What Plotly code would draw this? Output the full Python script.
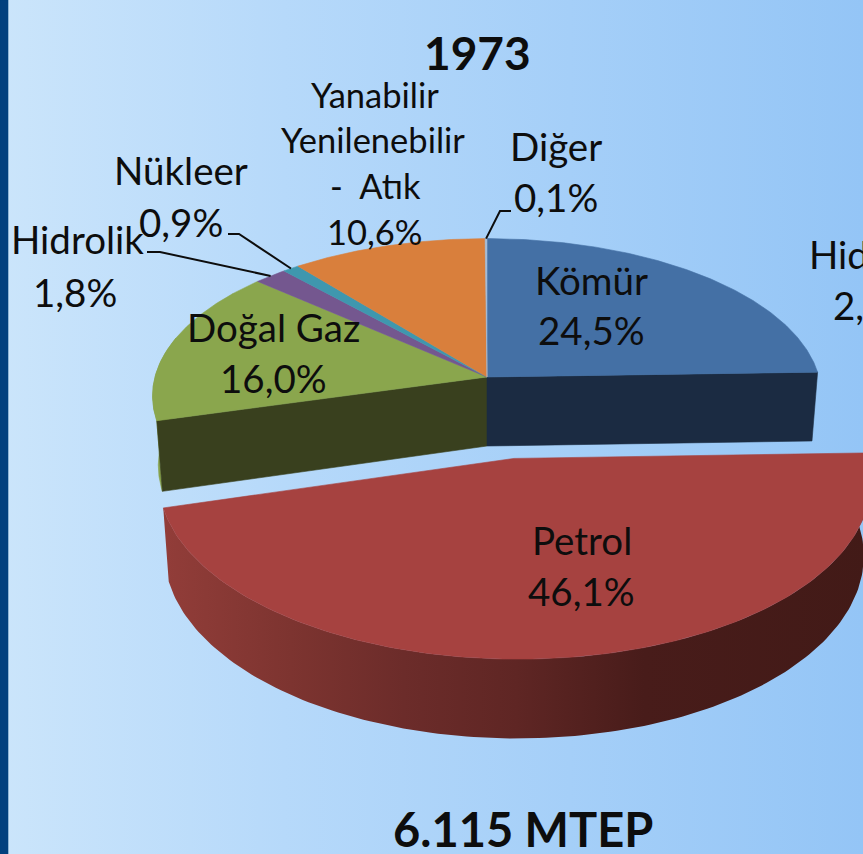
import numpy as np
import plotly.graph_objects as go

# ---------- data ----------
categories = ["Kömür", "Petrol", "Doğal Gaz", "Hidrolik", "Nükleer", "Yanabilir Yenilenebilir - Atık", "Diğer"]
values = [24.5, 46.1, 16.0, 1.8, 0.9, 10.6, 0.1]
top_colors = ["#4470a5", "#a64240", "#8aa64d", "#74578f", "#3f97ae", "#d97f3c", "#a5bcd6"]
title_text = "1973"
total_text = "6.115 MTEP"
exploded_category = "Petrol"

# ---------- projection of the tilted disc ----------
W, H = 863, 854
CX, CY, RX, RY, K, DEPTH, BASE = 487, 377, 332, 155, 0.12, 69, 0.983
EXPLODE = 0.5
FONT = "Lato"


def project(X, Z, bottom=False):
    s = 1 / (1 - K * Z)
    if bottom:
        return CX + RX * X * s * BASE, CY + RY * Z * s * BASE + DEPTH * s
    return CX + RX * X * s, CY + RY * Z * s


bounds = np.concatenate([[0], np.cumsum(values)]) / sum(values) * 2 * np.pi
wedges = []
for i, c in enumerate(categories):
    a0, a1 = bounds[i], bounds[i + 1]
    mid = (a0 + a1) / 2
    e = EXPLODE if c == exploded_category else 0
    wedges.append(dict(a0=a0, a1=a1, ox=e * np.sin(mid), oz=-e * np.cos(mid), color=top_colors[i], name=c))


def arc(w, a0=None, a1=None, bottom=False, n=160):
    t = np.linspace(w["a0"] if a0 is None else a0, w["a1"] if a1 is None else a1, n)
    return project(w["ox"] + np.sin(t), w["oz"] - np.cos(t), bottom)


def top_face(w):
    x, y = arc(w)
    ax, ay = project(w["ox"], w["oz"])
    return np.r_[ax, x, ax], np.r_[ay, y, ay]


def outer_wall(w, a0=None, a1=None):
    x, y = arc(w, a0, a1)
    xb, yb = arc(w, a0, a1, bottom=True)
    return np.r_[x, xb[::-1], x[0]], np.r_[y, yb[::-1], y[0]]


def radial_wall(w, angle):
    ex, ez = w["ox"] + np.sin(angle), w["oz"] - np.cos(angle)
    p = [project(w["ox"], w["oz"]), project(ex, ez), project(ex, ez, True), project(w["ox"], w["oz"], True)]
    p.append(p[0])
    return [q[0] for q in p], [q[1] for q in p]


fig = go.Figure()


def poly(x, y, color=None, gradient=None):
    kw = dict(fillgradient=gradient) if gradient else dict(fillcolor=color)
    fig.add_trace(go.Scatter(x=list(x), y=list(y), mode="lines", fill="toself",
                             line=dict(width=0.6 if color else 0, color=color or "rgba(0,0,0,0)"),
                             hoverinfo="skip", showlegend=False, **kw))


# background gradient and left band
bg = [[0, "#cbe5fb"], [0.33, "#b6d9fa"], [0.66, "#a5cff8"], [1, "#94c5f6"]]
poly([0, W, W, 0, 0], [0, 0, H, H, 0], gradient=dict(type="horizontal", colorscale=bg))
poly([0, 8, 8, 0, 0], [0, 0, H, H, 0], color="#02407e")

w_by = {w["name"]: w for w in wedges}
koz, pet, gaz = w_by["Kömür"], w_by["Petrol"], w_by["Doğal Gaz"]

# walls of the main pie
poly(*outer_wall(gaz, gaz["a0"], np.deg2rad(285)), color="#86a14b")
poly(*radial_wall(gaz, gaz["a0"]), color="#39401e")
poly(*radial_wall(koz, koz["a1"]), color="#1b2b42")

# top faces of the main pie
for w in wedges:
    if w["name"] != exploded_category:
        poly(*top_face(w), color=w["color"])

# exploded slice
wall = [[0, "#923d39"], [0.18, "#7d3430"], [0.34, "#6c2c2a"], [0.5, "#5f2624"], [0.68, "#481c1a"], [1, "#421a17"]]
poly(*outer_wall(pet), gradient=dict(type="horizontal", colorscale=wall))
poly(*top_face(pet), color=pet["color"])


# leader lines: from the label elbow to the rim of the slice
def leader(name, elbow):
    w = w_by[name]
    m = (w["a0"] + w["a1"]) / 2
    ex, ey = project(w["ox"] + np.sin(m), w["oz"] - np.cos(m))
    fig.add_trace(go.Scatter(x=[p[0] for p in elbow] + [ex], y=[p[1] for p in elbow] + [ey], mode="lines",
                             line=dict(color="#0d0d0d", width=2), hoverinfo="skip", showlegend=False))


leader("Diğer", [(511, 211), (500, 211)])
leader("Nükleer", [(228, 234), (239, 234)])
leader("Hidrolik", [(147, 252), (160, 252)])


def pct(name):
    return f"{values[categories.index(name)]:.1f}%".replace(".", ",")


def txt(x, y, s, size=38.5, bold=False, anchor="center"):
    fig.add_annotation(x=x, y=y - 1.5, xref="x", yref="y", text=f"<b>{s}</b>" if bold else s, showarrow=False,
                       xanchor=anchor, yanchor="middle", font=dict(family=FONT, size=size, color="#0d0d0d"))


txt(477, 54, title_text, 46, True)
txt(523, 830, total_text, 47, True)

txt(591, 281, "Kömür"); txt(591, 331, pct("Kömür"))
txt(582, 541, "Petrol"); txt(581, 592, pct("Petrol"))
txt(273, 328, "Doğal Gaz"); txt(273, 379, pct("Doğal Gaz"))
txt(77, 240, "Hidrolik"); txt(75, 293, pct("Hidrolik"))
txt(181, 171, "Nükleer"); txt(181, 223, pct("Nükleer"))
txt(556, 147, "Diğer"); txt(556, 198, pct("Diğer"))
txt(375, 96, "Yanabilir", 34.5); txt(373, 141, "Yenilenebilir", 34.5); txt(375, 187, "-  Atık", 34.5)
txt(375, 233, pct("Yanabilir Yenilenebilir - Atık"), 34.5)
txt(807, 255, "Hid", anchor="left"); txt(831, 306, "2,", anchor="left")

fig.update_layout(width=W, height=H, margin=dict(l=0, r=0, t=0, b=0), showlegend=False,
                  paper_bgcolor="#b5d8fa", plot_bgcolor="rgba(0,0,0,0)",
                  xaxis=dict(range=[0, W], visible=False, fixedrange=True),
                  yaxis=dict(range=[H, 0], visible=False, fixedrange=True))

fig.write_html("out.html", config=dict(displayModeBar=False),
               post_script="document.body.style.margin='0';document.body.style.overflow='hidden';")
